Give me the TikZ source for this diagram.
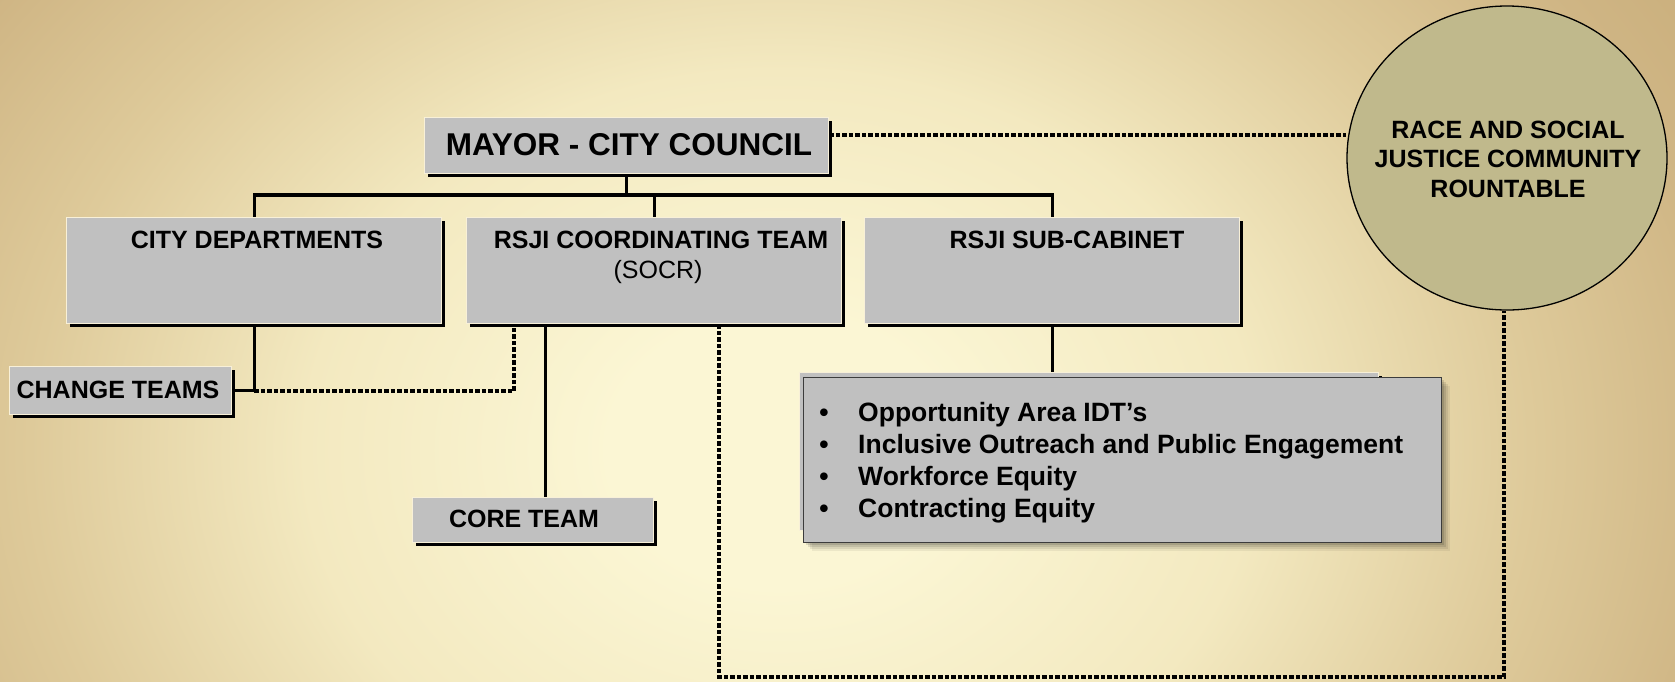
\documentclass[tikz,border=0pt]{standalone}
\usepackage{fontspec}
\setmainfont{Liberation Sans}
\usetikzlibrary{shadows,calc,shapes.geometric}

\definecolor{bgA}{HTML}{FBF6D4}
\definecolor{bgB}{HTML}{F3E9C0}
\definecolor{bgC}{HTML}{DECA9A}
\definecolor{bgD}{HTML}{CFB584}
\definecolor{bgE}{HTML}{C4A873}
\definecolor{boxgray}{HTML}{C0C0C0}
\definecolor{boxrim}{HTML}{F8F0D8}
\definecolor{listrim}{HTML}{3C3C3C}
\definecolor{roundfill}{HTML}{C0B98C}

% radial glow; 25bp is mapped onto the rim of the shaded ellipse
\pgfdeclareradialshading{bgglow}{\pgfpoint{0bp}{0bp}}{%
  color(0bp)=(bgA); color(3.4bp)=(bgA); color(9.5bp)=(bgB);
  color(15bp)=(bgC); color(19.3bp)=(bgD); color(25bp)=(bgE); color(50bp)=(bgE)}

\pgfdeclarelayer{bg}
\pgfdeclarelayer{edges}
\pgfsetlayers{bg,edges,main}

\tikzset{
  gbox/.style={rectangle, fill=boxgray, draw=boxrim, line width=1.4pt,
    inner sep=0pt, anchor=north west,
    drop shadow={shadow xshift=3pt, shadow yshift=-3pt, fill=black, opacity=1}},
  listbox/.style={rectangle, fill=boxgray, draw=listrim, line width=1.2pt,
    inner sep=0pt, anchor=north west,
    drop shadow={shadow xshift=2pt, shadow yshift=-2pt, fill=black, opacity=.12},
    drop shadow={shadow xshift=4pt, shadow yshift=-4pt, fill=black, opacity=.10},
    drop shadow={shadow xshift=6pt, shadow yshift=-6pt, fill=black, opacity=.08},
    drop shadow={shadow xshift=8pt, shadow yshift=-8pt, fill=black, opacity=.06}},
  bigtitle/.style={anchor=base, inner sep=0pt, font=\fontsize{31.5}{37}\selectfont\bfseries},
  title/.style={anchor=base, inner sep=0pt, font=\fontsize{25}{30}\selectfont\bfseries},
  subtitle/.style={anchor=base, inner sep=0pt, font=\fontsize{25}{30}\selectfont},
  itemtext/.style={anchor=base west, inner sep=0pt, font=\fontsize{26.5}{32}\selectfont\bfseries},
  itemdot/.style={anchor=base, inner sep=0pt, font=\fontsize{26.5}{32}\selectfont\bfseries},
  solidline/.style={line width=3.4pt, draw=black},
  dotline/.style={line width=3.6pt, draw=black, dash pattern=on 4.5pt off 2pt},
}

\begin{document}
\begin{tikzpicture}[x=1pt, y=-1pt]
\useasboundingbox (0,0) rectangle (1675,681);

% backdrop: warm glow, light in the middle, tan toward the edges
\begin{pgfonlayer}{bg}
  \clip (0,0) rectangle (1675,681);
  \shade[shading=bgglow] (780,450) ellipse (1250 and 1000);
\end{pgfonlayer}

% boxes
\node[gbox, minimum width=404, minimum height=56] (mayor) at (424,117) {};
\node[gbox, minimum width=375, minimum height=106] (dept) at (66,217) {};
\node[gbox, minimum width=375, minimum height=106] (coord) at (466,217) {};
\node[gbox, minimum width=375, minimum height=106] (sub) at (864,217) {};
\node[gbox, minimum width=222, minimum height=48] (change) at (9,366) {};
\node[gbox, minimum width=241, minimum height=45] (core) at (412,497) {};
\node[gbox, minimum width=579, minimum height=158] (subback) at (799,372) {};
\node[listbox, minimum width=638, minimum height=165] (sublist) at (803,377) {};

% community roundtable
\node[ellipse, minimum width=320, minimum height=304, inner sep=0pt,
      fill=roundfill, draw=black, line width=1.3pt] (round) at (1507,158) {};

% labels
\node[bigtitle] (tmayor) at (629,155) {MAYOR - CITY COUNCIL};
\node[title] (tdept) at (257,248) {CITY DEPARTMENTS};
\node[title] (tcoord) at (661,248) {RSJI COORDINATING TEAM};
\node[subtitle] (tsocr) at (658,278) {(SOCR)};
\node[title] (tsub) at (1067,248) {RSJI SUB-CABINET};
\node[title] (tchange) at (118,398) {CHANGE TEAMS};
\node[title] (tcore) at (524,527) {CORE TEAM};
\node[title] (tround1) at (1508,138) {RACE AND SOCIAL};
\node[title] (tround2) at (1508,167) {JUSTICE COMMUNITY};
\node[title] (tround3) at (1508,197) {ROUNTABLE};

% bulleted list
\node[itemdot] (d1) at (824,421) {•};
\node[itemdot] (d2) at (824,453) {•};
\node[itemdot] (d3) at (824,485) {•};
\node[itemdot] (d4) at (824,517) {•};
\node[itemtext] (i1) at (858,421) {Opportunity Area IDT’s};
\node[itemtext] (i2) at (858,453) {Inclusive Outreach and Public Engagement};
\node[itemtext] (i3) at (858,485) {Workforce Equity};
\node[itemtext] (i4) at (858,517) {Contracting Equity};

% helper levels for the connectors
\coordinate (busy) at (0,195);
\coordinate (mlevel) at (0,135);
\coordinate (loop) at (1504,677);

\begin{pgfonlayer}{edges}
  % reporting lines
  \draw[solidline] (mayor.south) -- (mayor.south |- busy);
  \draw[solidline] (dept.north) -- (dept.north |- busy) -- (sub.north |- busy) -- (sub.north);
  \draw[solidline] (coord.north) -- (coord.north |- busy);
  \draw[solidline] (dept.south) |- (change.east);
  \draw[solidline] ([xshift=12pt]core.north) -- ([xshift=12pt]core.north |- coord.south);
  \draw[solidline] (sub.south) -- (sub.south |- subback.north);
  % advisory links
  \draw[dotline] (mayor.east |- mlevel) -- (round.west |- mlevel);
  \draw[dotline] (dept.south |- change.east) -| ($(coord.south west)+(48,0)$);
  \draw[dotline] ($(coord.south west)+(253,0)$) |- (loop) -- (loop |- round.south);
\end{pgfonlayer}
\end{tikzpicture}
\end{document}
